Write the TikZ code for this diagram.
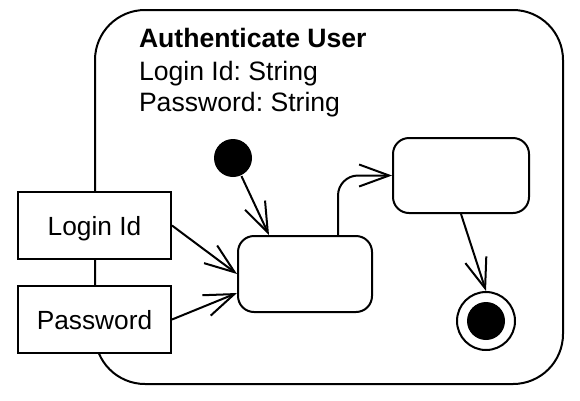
\documentclass[tikz,border=0pt]{standalone}
\usepackage{fontspec}
\setmainfont{Liberation Sans}
\frenchspacing
\usetikzlibrary{arrows.meta,calc}
\begin{document}
\begin{tikzpicture}[x=1pt,y=-1pt,
  line width=2pt,
  lbl/.style={font=\fontsize{26.6}{32}\selectfont, inner sep=0pt},
  pinbox/.style={draw, fill=white, minimum width=153pt, minimum height=67pt, inner sep=0pt,
    font=\fontsize{26.3}{32}\selectfont, text height=19pt, text depth=0pt},
  statebox/.style={draw, fill=white, rounded corners=16pt, inner sep=0pt},
  arr/.style={-{Straight Barb[length=30pt,width=22pt,line width=2pt]}}
]
\useasboundingbox (0,0) rectangle (580,400);
% outer composite state
\node[draw, rounded corners=50pt, minimum width=468pt, minimum height=374pt, inner sep=0pt] (outer) at (329,197) {};
\node[lbl, anchor=base west, font=\fontsize{26.6}{32}\selectfont\bfseries] (title) at (138,47) {Authenticate User};
\node[lbl, anchor=base west] (attr1) at (138,80) {Login Id: String};
\node[lbl, anchor=base west] (attr2) at (138,111) {Password: String};
% pins
\node[pinbox] (login) at (94.5,225.5) {Login Id};
\node[pinbox] (password) at (94.5,319.5) {Password};
% states
\node[circle, fill=black, minimum size=38pt, inner sep=0pt] (init) at (233,158) {};
\node[statebox, minimum width=134pt, minimum height=76pt] (s1) at (305,274) {};
\node[statebox, minimum width=136pt, minimum height=75pt] (s2) at (461,175.5) {};
\node[circle, draw, minimum size=58pt, inner sep=0pt] (final) at (486,321) {};
\node[circle, fill=black, minimum size=38pt, inner sep=0pt] (finaldot) at (final) {};
% connectors
\draw[arr] (init) -- ($(s1.north west)+(32,0)$);
\draw[arr] (login.east) -- (s1.west);
\draw[arr] (password.east) -- ($(s1.west)+(0,19)$);
\draw[arr, rounded corners=20pt] ($(s1.north west)+(101,0)$) |- (s2.west);
\draw[arr] (s2.south) -- (final.north);
\end{tikzpicture}
\end{document}
